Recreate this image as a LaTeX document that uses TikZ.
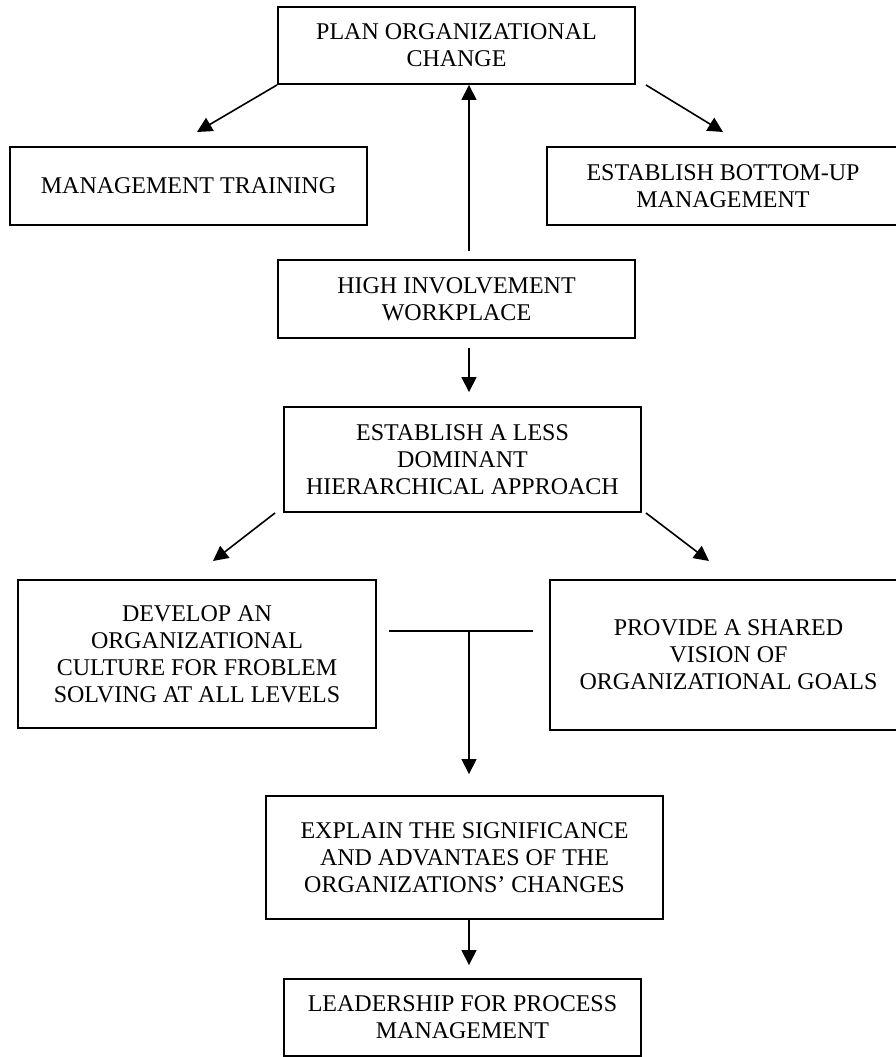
\documentclass[tikz,border=0pt]{standalone}
\usepackage{fontspec}
\setmainfont{Liberation Serif}
\usetikzlibrary{arrows.meta,positioning}

\begin{document}
\begin{tikzpicture}[x=1pt,y=-1pt,
 box/.style={draw,rectangle,line width=1.9pt,align=center,inner sep=0pt,
  font=\fontsize{24}{27}\selectfont},
 every edge/.style={draw,line width=1.6pt},
 >={Triangle[length=15pt,width=15pt]}]
 \useasboundingbox (0,0) rectangle (896,1057);
 \node[box,minimum width=357pt,minimum height=77pt] (plan) at (456.5,45.5) {PLAN ORGANIZATIONAL\\CHANGE};
 \node[box,minimum width=357pt,minimum height=78pt] (training) at (188.5,186) {MANAGEMENT TRAINING};
 \node[box,minimum width=352pt,minimum height=78pt] (bottomup) at (723,186) {ESTABLISH BOTTOM-UP\\MANAGEMENT};
 \node[box,minimum width=357pt,minimum height=78pt] (involve) at (456.5,299) {HIGH INVOLVEMENT\\WORKPLACE};
 \node[box,minimum width=357pt,minimum height=105pt] (less) at (462.5,459.5) {ESTABLISH A LESS\\DOMINANT\\HIERARCHICAL APPROACH};
 \node[box,minimum width=358pt,minimum height=148pt] (culture) at (197,654) {DEVELOP AN\\ORGANIZATIONAL\\CULTURE FOR FROBLEM\\SOLVING AT ALL LEVELS};
 \node[box,minimum width=357pt,minimum height=150pt] (vision) at (728.5,655) {PROVIDE A SHARED\\VISION OF\\ORGANIZATIONAL GOALS};
 \node[box,minimum width=397pt,minimum height=123pt] (explain) at (464.5,857.5) {EXPLAIN THE SIGNIFICANCE\\AND ADVANTAES OF THE\\ORGANIZATIONS’ CHANGES};
 \node[box,minimum width=357pt,minimum height=77pt] (lead) at (462.5,1017.5) {LEADERSHIP FOR PROCESS\\MANAGEMENT};
 % free arrow ends and the joint
 \coordinate (tip_tl) at (197,132);
 \coordinate (tip_tr) at (723,132);
 \coordinate (tip_cl) at (213,561);
 \coordinate (tip_cr) at (709,561);
 \coordinate (t_left) at (389,631);
 \coordinate (t_right) at (533,631);
 \coordinate (t_mid) at (469,631);
 \path[->]
 (plan.south west) edge (tip_tl)
 ([xshift=10pt]plan.south east) edge (tip_tr)
 ([xshift=12.5pt]involve.north) edge[shorten <=8pt] ([xshift=12.5pt]plan.south)
 ([xshift=12.5pt]involve.south) edge[shorten <=9pt,shorten >=14pt] ([xshift=6.5pt]less.north)
 ([xshift=-8pt]less.south west) edge (tip_cl)
 ([xshift=4pt]less.south east) edge (tip_cr)
 (t_mid) edge[shorten >=21pt] ([xshift=4.5pt]explain.north)
 ([xshift=4.5pt]explain.south) edge[shorten >=13pt] ([xshift=6.5pt]lead.north);
 \draw[line width=1.3pt] (t_left) -- (t_right);
\end{tikzpicture}
\end{document}
